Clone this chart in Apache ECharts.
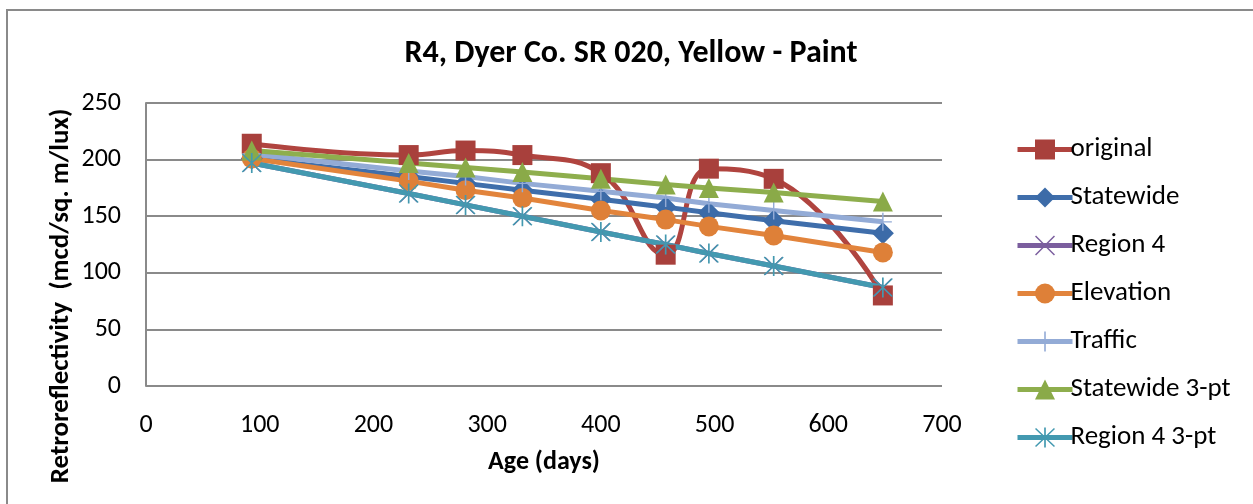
<!DOCTYPE html>
<html>
<head>
<meta charset="utf-8">
<script src="https://cdn.jsdelivr.net/npm/echarts@6/dist/echarts.min.js"></script>
<style>
  html, body { margin: 0; padding: 0; background: #fff; }
  #chart { width: 1253px; height: 504px; }
</style>
</head>
<body>
<div id="chart"></div>
<script>
// Age of the pavement marking at each reading (days)
const ageDays = [93, 231, 281, 331, 400, 457, 495, 552, 648];

// Retroreflectivity readings and model predictions (mcd/sq. m/lux)
const original     = [214, 204, 208, 204, 188, 116, 192, 183, 80];
const statewide    = [201, 185, 179, 173, 165, 158, 153, 146, 135];
const region4      = [197, 170, 160, 150, 136, 125, 117, 106, 87];
const elevation    = [201, 181, 173, 166, 155, 147, 141, 133, 118];
const traffic      = [205, 190, 185, 179, 172, 166, 161, 155, 145];
const statewide3pt = [208, 197, 193, 189, 183, 178, 175, 171, 163];
const region43pt   = [197, 170, 160, 150, 136, 125, 117, 106, 87];

const xTicks = { min: 0, max: 700, step: 100 };
const yTicks = { min: 0, max: 250, step: 50 };

const FONT = 'Carlito, Lato, "Liberation Sans", sans-serif';

// Marker shapes
const STAR = 'path://M9.2 0H10.8V20H9.2Z M0.5 1.5L1.5 0.5L19.5 18.5L18.5 19.5Z M18.5 0.5L19.5 1.5L1.5 19.5L0.5 18.5Z';
const CROSS = 'path://M0.5 1.5L1.5 0.5L19.5 18.5L18.5 19.5Z M18.5 0.5L19.5 1.5L1.5 19.5L0.5 18.5Z';
const PLUS = 'path://M9.2 0H10.8V20H9.2Z M0 9.2H20V10.8H0Z';

function pairs(values) {
  return ageDays.map((d, i) => [d, values[i]]);
}

function makeSeries(name, values, color, markerColor, symbol, size, extra) {
  return Object.assign({
    name: name,
    type: 'line',
    data: pairs(values),
    symbol: symbol,
    symbolSize: size,
    showAllSymbol: true,
    lineStyle: { color: color, width: 5 },
    itemStyle: { color: markerColor },
    emphasis: { disabled: true },
    animation: false
  }, extra || {});
}

const chart = echarts.init(document.getElementById('chart'));

chart.setOption({
  backgroundColor: '#ffffff',
  animation: false,
  graphic: [{
    type: 'rect',
    shape: { x: 7, y: 10, width: 1260, height: 510 },
    style: { fill: 'none', stroke: '#8a8a8a', lineWidth: 2 },
    silent: true
  }, {
    // vertical axis title, set a little below the plot's middle
    type: 'text',
    x: 61,
    y: 296,
    rotation: Math.PI / 2,
    style: {
      text: 'Retroreflectivity  (mcd/sq. m/lux)',
      fontFamily: FONT,
      fontSize: 27,
      fontWeight: 'bold',
      fill: '#000',
      align: 'center',
      verticalAlign: 'middle'
    },
    silent: true
  }],
  title: {
    text: 'R4, Dyer Co. SR 020, Yellow - Paint',
    left: 626,
    textAlign: 'center',
    top: 33,
    textStyle: { fontFamily: FONT, fontSize: 32, fontWeight: 'bold', color: '#000' }
  },
  legend: {
    orient: 'vertical',
    left: 1010,
    top: 131,
    itemWidth: 55,
    itemHeight: 25,
    itemGap: 21,
    lineStyle: { width: 5 },
    textStyle: { fontFamily: FONT, fontSize: 27, lineHeight: 27, color: '#000', padding: [0, 0, 0, -7] },
    data: ['original', 'Statewide', 'Region 4', 'Elevation', 'Traffic', 'Statewide 3-pt', 'Region 4 3-pt']
  },
  grid: { left: 146, right: 311, top: 103, bottom: 118, containLabel: false },
  xAxis: {
    type: 'value',
    min: xTicks.min,
    max: xTicks.max,
    interval: xTicks.step,
    name: 'Age (days)',
    nameLocation: 'middle',
    nameGap: 63,
    nameTextStyle: { fontFamily: FONT, fontSize: 26, fontWeight: 'bold', color: '#000' },
    axisLine: { show: false },
    axisTick: { show: false },
    splitLine: { show: false },
    axisLabel: { fontFamily: FONT, fontSize: 26, color: '#000', margin: 26 }
  },
  yAxis: {
    type: 'value',
    min: yTicks.min,
    max: yTicks.max,
    interval: yTicks.step,
    axisLine: { show: true, lineStyle: { color: '#8a8a8a', width: 2 } },
    axisTick: { show: false },
    splitLine: { show: true, lineStyle: { color: '#8a8a8a', width: 2 } },
    axisLabel: { fontFamily: FONT, fontSize: 26, color: '#000', margin: 25 }
  },
  series: [
    makeSeries('original', original, '#B0443F', '#A8403C', 'rect', 20, { smooth: 0.45 }),
    makeSeries('Statewide', statewide, '#3F6EAB', '#3C6BA8', 'diamond', 22),
    makeSeries('Region 4', region4, '#7B5E9E', '#7B5E9E', CROSS, 18),
    makeSeries('Elevation', elevation, '#E2843C', '#DE8038', 'circle', 20),
    makeSeries('Traffic', traffic, '#93ABD6', '#93ABD6', PLUS, 18),
    makeSeries('Statewide 3-pt', statewide3pt, '#8EAE4D', '#8AAA48', 'triangle', 20),
    makeSeries('Region 4 3-pt', region43pt, '#4399B0', '#4399B0', STAR, 20)
  ]
});
</script>
</body>
</html>
